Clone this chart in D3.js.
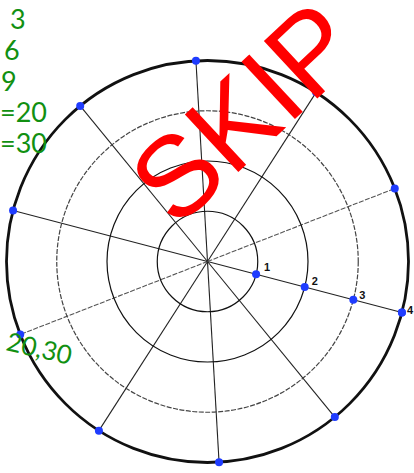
<!DOCTYPE html>
<html>
<head>
<meta charset="utf-8">
<script src="https://cdn.jsdelivr.net/npm/d3@7"></script>
<style>
  body { margin: 0; background: #fff; }
  svg { display: block; }
</style>
</head>
<body>
<div id="chart"></div>
<script>
// polar grid values
var rings = [1, 2, 3, 4];
var ringStyle = ["solid", "solid", "dashed", "outer"];
var spokeAngles = [0, 36, 72, 108, 144, 180, 216, 252, 288, 324];
var dashedSpokes = [144, 324];
var markedPoints = [1, 2, 3, 4];        // along spoke 0
var pointLabels = ["1", "2", "3", "4"];

// handwritten notes + stamp
var notes = ["3", "6", "9", "=20", "=30"];
var noteBottom = "20,30";
var stamp = "SKIP";

var width = 414, height = 473;
var cx = 207.5, cy = 261.5;

var svg = d3.select("#chart")
  .append("svg")
    .attr("width", width)
    .attr("height", height);

var g = svg.append("g")
    .attr("transform", "translate(" + cx + "," + cy + ")");

// radius and angle scales
var r = d3.scaleLinear().domain([0, 4]).range([0, 201]);
var a = d3.scaleLinear().domain([0, 360]).range([14.7, 374.7]); // degrees, screen (clockwise from +x)

function px(v, deg) { return r(v) * Math.cos(a(deg) * Math.PI / 180); }
function py(v, deg) { return r(v) * Math.sin(a(deg) * Math.PI / 180); }

// spokes
g.selectAll("line.spoke")
  .data(spokeAngles)
  .enter()
  .append("line")
    .attr("class", "spoke")
    .attr("x1", 0).attr("y1", 0)
    .attr("x2", function(d) { return px(4, d); })
    .attr("y2", function(d) { return py(4, d); })
    .attr("stroke", function(d) { return dashedSpokes.indexOf(d) >= 0 ? "#555" : "#222"; })
    .attr("stroke-width", 1.1)
    .attr("stroke-dasharray", function(d) { return dashedSpokes.indexOf(d) >= 0 ? "5,1.5" : null; });

// rings
g.selectAll("circle.ring")
  .data(rings)
  .enter()
  .append("circle")
    .attr("class", "ring")
    .attr("r", function(d) { return r(d); })
    .attr("fill", "none")
    .attr("stroke", function(d, i) { return ringStyle[i] == "dashed" ? "#444" : "#111"; })
    .attr("stroke-width", function(d, i) { return ringStyle[i] == "outer" ? 2.8 : 1.2; })
    .attr("stroke-dasharray", function(d, i) { return ringStyle[i] == "dashed" ? "5,1.5" : null; });

// blue points on the rim
g.selectAll("circle.rim")
  .data(spokeAngles)
  .enter()
  .append("circle")
    .attr("class", "rim")
    .attr("cx", function(d) { return px(4, d); })
    .attr("cy", function(d) { return py(4, d); })
    .attr("r", 4)
    .attr("fill", "#1f3cff");

// blue points along spoke 0
g.selectAll("circle.mark")
  .data(markedPoints)
  .enter()
  .append("circle")
    .attr("class", "mark")
    .attr("cx", function(d) { return px(d, 0); })
    .attr("cy", function(d) { return py(d, 0); })
    .attr("r", 4)
    .attr("fill", "#1f3cff");

g.selectAll("text.lbl")
  .data(markedPoints)
  .enter()
  .append("text")
    .attr("class", "lbl")
    .attr("x", function(d) { return px(d, 0) + 9 - d; })
    .attr("y", function(d) { return py(d, 0) - 4 + d * 1.5 - 1; })
    .attr("font-family", "Liberation Sans, Arial, sans-serif")
    .attr("font-weight", "bold")
    .attr("font-size", 11)
    .attr("fill", "#111")
    .text(function(d, i) { return pointLabels[i]; });

// green handwritten notes
var noteY = d3.scalePoint().domain(notes).range([29, 153]);
var noteX = { "3": 10, "6": 4, "9": 1, "=20": 0, "=30": 0 };
svg.selectAll("text.note")
  .data(notes)
  .enter()
  .append("text")
    .attr("class", "note")
    .attr("x", function(d) { return noteX[d]; })
    .attr("y", function(d) { return noteY(d); })
    .attr("font-family", "Lato, DejaVu Sans, sans-serif")
    .attr("font-size", 27)
    .attr("fill", "#119011")
    .text(function(d) { return d; });

svg.append("text")
    .attr("transform", "translate(5,350) rotate(13)")
    .attr("font-family", "Lato, DejaVu Sans, sans-serif")
    .attr("font-size", 26)
    .attr("fill", "#119011")
    .text(noteBottom);

// red stamp
svg.append("text")
    .attr("transform", "translate(176,230) rotate(-43)")
    .attr("font-family", "Liberation Sans, Arial, sans-serif")
    .attr("font-size", 114)
    .attr("fill", "#ff0000")
    .text(stamp);
</script>
</body>
</html>
